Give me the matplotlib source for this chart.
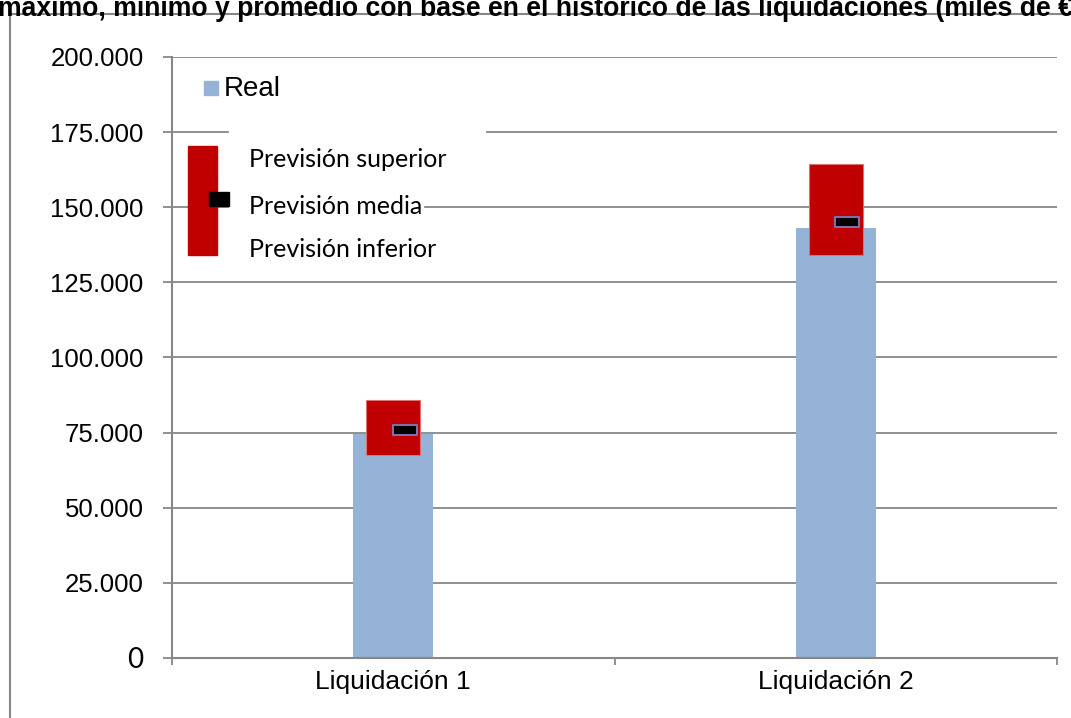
import numpy as np
import matplotlib
matplotlib.use("Agg")
import matplotlib.pyplot as plt
from matplotlib.patches import Rectangle
from matplotlib.path import Path

# datos
categorias = ["Liquidación 1", "Liquidación 2"]
real = [74500, 143000]
prevision_superior = [86000, 164500]
prevision_media = [76000, 145000]
prevision_inferior = [67500, 134000]
yticks = [0, 25000, 50000, 75000, 100000, 125000, 150000, 175000, 200000]
ytick_labels = ["0", "25.000", "50.000", "75.000", "100.000", "125.000",
                "150.000", "175.000", "200.000"]
titulo = ("máximo, mínimo y promedio con base en el histórico de las "
          "liquidaciones (miles de €)")

W, H = 1071, 718
GRAY = "#878787"
BLUE = "#95B3D7"
RED = "#C00000"


def fx(px):
    return px / W


def fy(py):
    return 1 - py / H


def caja(x0, y0, x1, y1, **kw):
    # rectángulo en píxeles (origen arriba a la izquierda)
    r = Rectangle((fx(x0), fy(y1)), fx(x1 - x0), (y1 - y0) / H,
                  transform=fig.transFigure, **kw)
    fig.add_artist(r)
    return r


fig = plt.figure(figsize=(W / 100, H / 100), dpi=100)
fig.patch.set_facecolor("white")

# marco exterior del gráfico
caja(10, 13.5, 1300, 800, fill=False, edgecolor=GRAY, lw=1.5, zorder=1)

fig.text(fx(-2), fy(16.5), titulo, ha="left", va="baseline", fontsize=19.2,
         fontweight="bold", family="Liberation Sans", zorder=3)

ax = fig.add_axes([fx(172), fy(658), fx(1057) - fx(172), (658 - 57) / H])
x = np.arange(len(categorias))

ax.bar(x, real, width=0.18, color=BLUE, zorder=2)
alto = np.array(prevision_superior) - np.array(prevision_inferior)
ax.bar(x, alto, bottom=prevision_inferior, width=0.122, color=RED,
       edgecolor="#E07070", lw=0.8, zorder=3)

rect_marker = Path([(-1, -0.42), (1, -0.42), (1, 0.42), (-1, 0.42), (-1, -0.42)],
                   [Path.MOVETO, Path.LINETO, Path.LINETO, Path.LINETO, Path.CLOSEPOLY])
ax.plot(x + 0.026, prevision_media, linestyle="none", marker=rect_marker,
        markersize=17, markerfacecolor="black", markeredgecolor="#7F6FA8",
        markeredgewidth=1.5, zorder=4)

ax.set_xlim(-0.5, 1.5)
ax.set_ylim(0, 200000)
ax.set_yticks(yticks, ytick_labels)
ax.set_xticks([-0.5, 0.5, 1.5], ["", "", ""])
ax.set_xticks(x, categorias, minor=True)

ax.grid(axis="y", color=GRAY, lw=1.3)
ax.set_axisbelow(True)
for s in ["top", "right"]:
    ax.spines[s].set_visible(False)
for s in ["left", "bottom"]:
    ax.spines[s].set_color(GRAY)
    ax.spines[s].set_linewidth(1.5)

ax.tick_params(axis="y", length=6.5, width=1.3, color=GRAY, pad=14,
               labelsize=18.5)
ax.tick_params(axis="x", which="major", length=5, width=1.3, color=GRAY)
ax.tick_params(axis="x", which="minor", length=0, pad=9, labelsize=19)
for t in ax.get_yticklabels() + ax.get_xticklabels(minor=True):
    t.set_fontfamily("Liberation Sans")
ax.get_yticklabels()[0].set_fontfamily("Lato")
ax.get_yticklabels()[0].set_fontsize(20)

# leyenda "Real"
caja(204, 81, 218, 95, color=BLUE, zorder=5)
fig.text(fx(224), fy(96), "Real", ha="left", va="baseline", fontsize=20,
         family="Liberation Sans", zorder=5)

# leyenda de previsiones
for (x0, y0, x1, y1) in [(229, 131, 485, 185), (229, 185, 423, 230),
                         (229, 230, 480, 272)]:
    caja(x0, y0, x1, y1, color="white", zorder=5)
caja(188, 146, 217, 254.5, color=RED, zorder=6)
caja(209, 192, 229, 206, color="black", zorder=7)
for etiqueta, base in [("Previsión superior", 167.3), ("Previsión media", 214),
                       ("Previsión inferior", 256.7)]:
    fig.text(fx(249), fy(base), etiqueta, ha="left", va="baseline",
             fontsize=18, family="Lato", zorder=8)

fig.savefig("out.png", dpi=100, facecolor="white")
